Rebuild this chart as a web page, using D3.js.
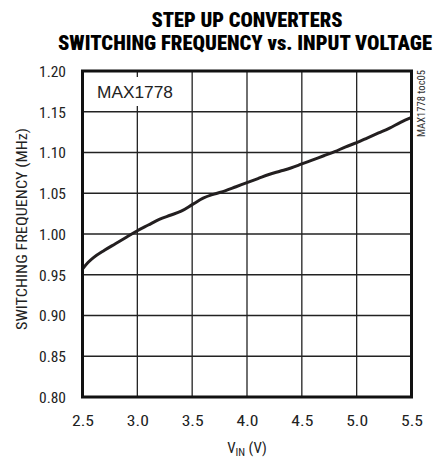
<!DOCTYPE html>
<html><head><meta charset="utf-8">
<script src="https://cdn.jsdelivr.net/npm/d3@7"></script>
<style>
html,body{margin:0;padding:0;background:#fff;}
svg{display:block;}
.narrow{font-family:"Liberation Sans Narrow","Arial Narrow","Roboto Condensed",Roboto,"Liberation Sans",sans-serif;}
</style>
</head><body>
<div id="chart"></div>
<script>
const titleLines = ["STEP UP CONVERTERS", "SWITCHING FREQUENCY vs. INPUT VOLTAGE"];
const xTicks = [2.5, 3.0, 3.5, 4.0, 4.5, 5.0, 5.5];
const yTicks = [0.80, 0.85, 0.90, 0.95, 1.00, 1.05, 1.10, 1.15, 1.20];
const vin = [2.5,2.55,2.6,2.7,2.8,2.9,3.0,3.1,3.2,3.3,3.4,3.5,3.6,3.7,3.8,3.9,4.0,4.1,4.2,4.3,4.4,4.5,4.6,4.7,4.8,4.9,5.0,5.1,5.2,5.3,5.4,5.5];
const freq = [0.957,0.965,0.971,0.980,0.988,0.996,1.004,1.011,1.018,1.023,1.028,1.036,1.044,1.049,1.053,1.058,1.063,1.068,1.073,1.077,1.081,1.086,1.091,1.096,1.101,1.107,1.112,1.118,1.124,1.130,1.137,1.143];
const yLabel = "SWITCHING FREQUENCY (MHz)";
const partLabel = "MAX1778";
const tocLabel = "MAX1778 toc05";

const W = 435, H = 461;
const m = {left: 82.5, right: 411.5, top: 71, bottom: 397};
const svg = d3.select("#chart").append("svg").attr("width", W).attr("height", H);

const x = d3.scaleLinear().domain([2.5, 5.5]).range([m.left, m.right]);
const y = d3.scaleLinear().domain([0.80, 1.20]).range([m.bottom, m.top]);

// Title
const tW = [191, 374], tX = [247, 245], tY = [27, 50];
titleLines.forEach((t, i) => {
  svg.append("text").attr("class", "narrow")
    .attr("x", tX[i]).attr("y", tY[i]).attr("text-anchor", "middle")
    .attr("font-size", 20).attr("font-weight", 900).attr("fill", "#000")
    .attr("textLength", tW[i]).attr("lengthAdjust", "spacingAndGlyphs")
    .text(t);
});

// Grid
const g = svg.append("g");
g.selectAll("line.vx").data(xTicks.slice(1, -1)).enter().append("line")
  .attr("x1", d => x(d)).attr("x2", d => x(d)).attr("y1", m.top).attr("y2", m.bottom)
  .attr("stroke", "#222").attr("stroke-width", 1.3);
g.selectAll("line.hy").data(yTicks.slice(1, -1)).enter().append("line")
  .attr("y1", d => y(d)).attr("y2", d => y(d)).attr("x1", m.left).attr("x2", m.right)
  .attr("stroke", "#222").attr("stroke-width", 1.3);

// Part label with white background
svg.append("rect").attr("x", 92).attr("y", 77).attr("width", 86).attr("height", 29).attr("fill", "#fff");
svg.append("text").attr("x", 97).attr("y", 98).attr("font-family", "Liberation Sans, Arial, sans-serif")
  .attr("font-size", 17).attr("fill", "#222").attr("textLength", 76).attr("lengthAdjust", "spacingAndGlyphs")
  .text(partLabel);

// Curve
const line = d3.line().x(d => x(d[0])).y(d => y(d[1])).curve(d3.curveMonotoneX);
svg.append("path").datum(vin.map((v, i) => [v, freq[i]]))
  .attr("d", line).attr("fill", "none").attr("stroke", "#231f20")
  .attr("stroke-width", 3).attr("stroke-linecap", "round");

// Frame
svg.append("rect").attr("x", m.left).attr("y", m.top)
  .attr("width", m.right - m.left).attr("height", m.bottom - m.top)
  .attr("fill", "none").attr("stroke", "#111").attr("stroke-width", 3);

// Axes (labels only)
const xAxis = d3.axisBottom(x).tickValues(xTicks).tickFormat(d3.format(".1f")).tickSize(0).tickPadding(0);
const xa = svg.append("g").attr("transform", `translate(0,${m.bottom})`).call(xAxis);
xa.select(".domain").remove();
xa.selectAll("text").attr("class", "narrow").attr("font-size", 15).attr("fill", "#222")
  .attr("dy", null).attr("y", 29).attr("textLength", 22).attr("lengthAdjust", "spacingAndGlyphs");

const yAxis = d3.axisLeft(y).tickValues(yTicks).tickFormat(d3.format(".2f")).tickSize(0).tickPadding(0);
const ya = svg.append("g").attr("transform", `translate(66,0)`).call(yAxis);
ya.select(".domain").remove();
ya.selectAll("text").attr("class", "narrow").attr("font-size", 15).attr("fill", "#222")
  .attr("dy", "0.36em").attr("x", 0).attr("textLength", 27).attr("lengthAdjust", "spacingAndGlyphs");

// Axis titles
svg.append("text").attr("class", "narrow")
  .attr("transform", "translate(27,229) rotate(-90)").attr("text-anchor", "middle")
  .attr("font-size", 14.5).attr("fill", "#222").attr("textLength", 202).attr("lengthAdjust", "spacingAndGlyphs")
  .text(yLabel);

const xl = svg.append("text").attr("class", "narrow").attr("x", 247).attr("y", 453)
  .attr("text-anchor", "middle").attr("font-size", 15).attr("fill", "#222");
xl.append("tspan").text("V");
xl.append("tspan").attr("font-size", 11).attr("dy", 3).text("IN");
xl.append("tspan").attr("dy", -3).text(" (V)");

// toc label
svg.append("text").attr("class", "narrow")
  .attr("transform", "translate(425,70) rotate(-90)").attr("text-anchor", "end")
  .attr("font-size", 10).attr("fill", "#333").attr("textLength", 67).attr("lengthAdjust", "spacingAndGlyphs")
  .text(tocLabel);
</script>
</body></html>
